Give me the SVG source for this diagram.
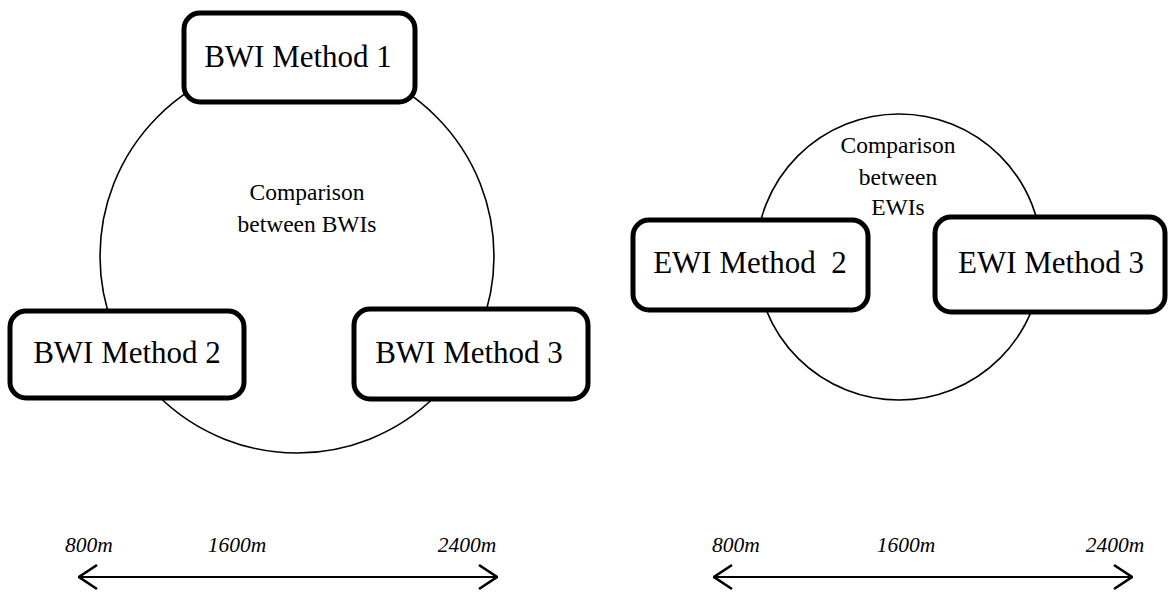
<svg xmlns="http://www.w3.org/2000/svg" width="1168" height="593" viewBox="0 0 1168 593">
  <defs>
    <style>
      .ring { fill: none; stroke: #000; stroke-width: 1.6; }
      .box { fill: #fff; stroke: #000; stroke-width: 5; }
      .lbl { font-family: "Liberation Serif", "Times New Roman", serif; font-size: 31px; fill: #000; text-anchor: middle; }
      .cmp { font-family: "Liberation Serif", "Times New Roman", serif; font-size: 23.5px; fill: #000; text-anchor: middle; }
      .tick { font-family: "Liberation Serif", "Times New Roman", serif; font-size: 21.5px; font-style: italic; fill: #000; text-anchor: middle; }
      .axis { fill: none; stroke: #000; stroke-width: 2.2; }
    </style>
    <marker id="chev" viewBox="0 0 20 28" refX="19" refY="14" markerWidth="20" markerHeight="28" markerUnits="userSpaceOnUse" orient="auto-start-reverse">
      <path d="M1,2 L19,14 L1,26" fill="none" stroke="#000" stroke-width="2.6"/>
    </marker>
  </defs>
  <rect width="1168" height="593" fill="#fff"/>

  <!-- comparison rings -->
  <g id="rings">
    <circle class="ring" cx="297" cy="256" r="197"/>
    <circle class="ring" cx="899" cy="257" r="143"/>
  </g>

  <g id="bwi-comparison">
    <text class="cmp" x="307" y="200">Comparison</text>
    <text class="cmp" x="307" y="232">between BWIs</text>
  </g>
  <g id="ewi-comparison">
    <text class="cmp" x="898" y="153">Comparison</text>
    <text class="cmp" x="898" y="185">between</text>
    <text class="cmp" x="898" y="215">EWIs</text>
  </g>

  <g id="bwi1">
    <rect class="box" x="184" y="13" width="231" height="89" rx="16"/>
    <text class="lbl" x="298" y="67">BWI Method 1</text>
  </g>
  <g id="bwi2">
    <rect class="box" x="10" y="311" width="234" height="87" rx="16"/>
    <text class="lbl" x="127" y="363">BWI Method 2</text>
  </g>
  <g id="bwi3">
    <rect class="box" x="354" y="309" width="234" height="90" rx="16"/>
    <text class="lbl" x="469" y="363">BWI Method 3</text>
  </g>
  <g id="ewi2">
    <rect class="box" x="633" y="220" width="235" height="90" rx="16"/>
    <text class="lbl" x="750" y="273" xml:space="preserve">EWI Method  2</text>
  </g>
  <g id="ewi3">
    <rect class="box" x="935" y="217" width="230" height="95" rx="16"/>
    <text class="lbl" x="1051" y="273">EWI Method 3</text>
  </g>

  <!-- distance scales -->
  <g id="connectors">
    <line class="axis" x1="79" y1="577" x2="497" y2="577" marker-start="url(#chev)" marker-end="url(#chev)"/>
    <line class="axis" x1="714" y1="577" x2="1132" y2="577" marker-start="url(#chev)" marker-end="url(#chev)"/>
  </g>
  <g id="scale-labels">
    <text class="tick" x="89" y="552">800m</text>
    <text class="tick" x="237" y="552">1600m</text>
    <text class="tick" x="467" y="552">2400m</text>
    <text class="tick" x="736" y="552">800m</text>
    <text class="tick" x="906" y="552">1600m</text>
    <text class="tick" x="1115" y="552">2400m</text>
  </g>
</svg>
